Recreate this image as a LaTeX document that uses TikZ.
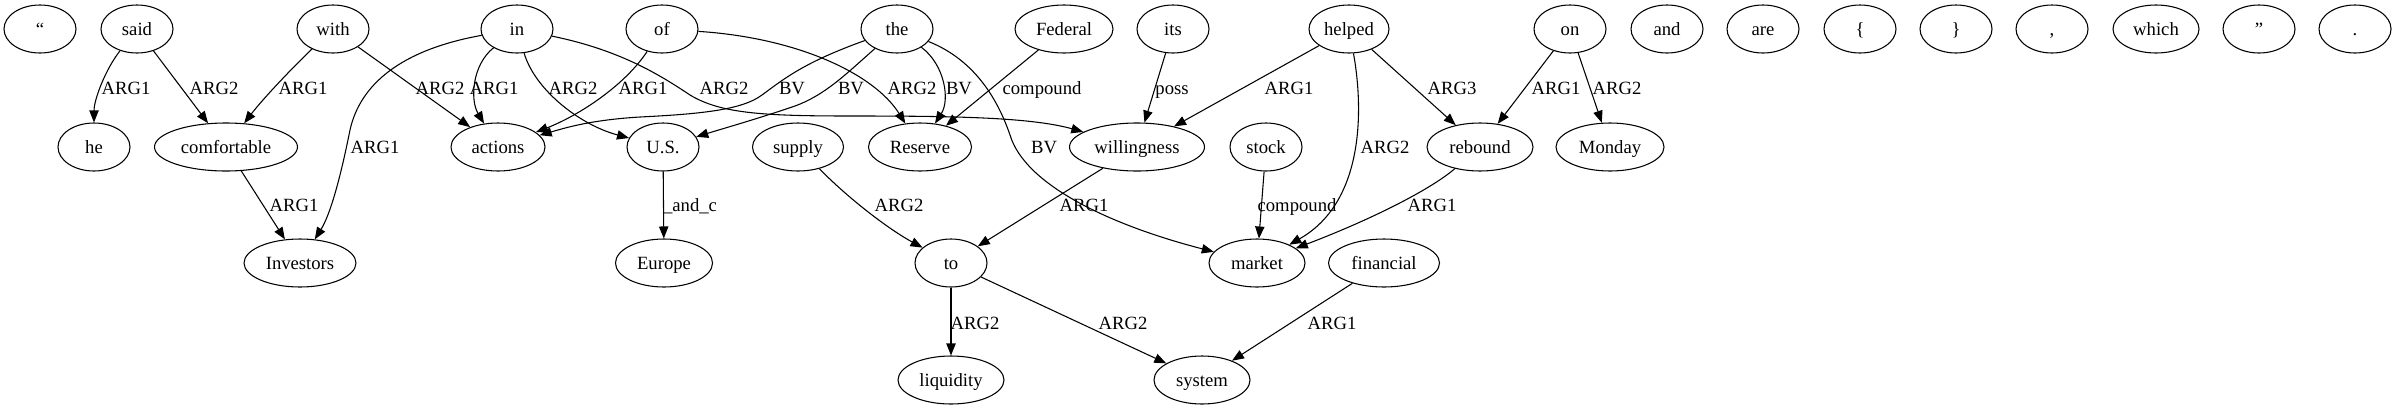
\documentclass[tikz,border=0pt]{standalone}
\usepackage{fontspec}
\setmainfont{Liberation Serif}
\usetikzlibrary{shapes.geometric,arrows.meta}
\tikzset{
  wn/.style={draw, ellipse, line width=0.8pt, inner sep=0pt, minimum height=36pt, minimum width=54pt,
    font=\fontsize{14}{16}\selectfont, text height=9.5pt, text depth=0pt},
  w/.style={minimum width=#1*0.75pt},
  ed/.style={draw, line width=0.8pt, -{Triangle[length=9pt,width=7pt]}},
  lbl/.style={font=\fontsize{14}{16}\selectfont, inner sep=0pt, text height=9.5pt, text depth=0pt}
}
\begin{document}
\begin{tikzpicture}[x=0.75pt,y=-0.75pt]
\useasboundingbox (0,0) rectangle (2393,411);
% row 1
\node[wn] (q1) at (40,29) {“};
\node[wn] (said) at (137,29) {said};
\node[wn] (with) at (333,29) {with};
\node[wn] (in) at (517,29) {in};
\node[wn] (of) at (662,29) {of};
\node[wn] (the) at (897,29) {the};
\node[wn,w=98] (federal) at (1064,29) {Federal};
\node[wn] (its) at (1173,29) {its};
\node[wn,w=80] (helped) at (1349,29) {helped};
\node[wn] (on) at (1570,29) {on};
\node[wn] (and) at (1667,29) {and};
\node[wn] (are) at (1763,29) {are};
\node[wn] (lb) at (1860,29) {\{};
\node[wn] (rb) at (1956,29) {\}};
\node[wn] (comma) at (2052,29) {,};
\node[wn,w=86] (which) at (2156,29) {which};
\node[wn] (q2) at (2259,29) {”};
\node[wn] (dot) at (2355,29) {.};
% row 2
\node[wn] (he) at (94,147) {he};
\node[wn,w=143] (comfortable) at (226,147) {comfortable};
\node[wn,w=94] (actions) at (498,147) {actions};
\node[wn] (us) at (663,147) {U.S.};
\node[wn,w=91] (supply) at (798,147) {supply};
\node[wn,w=103] (reserve) at (920,147) {Reserve};
\node[wn,w=135] (willingness) at (1137,147) {willingness};
\node[wn] (stock) at (1266,147) {stock};
\node[wn,w=106] (rebound) at (1480,147) {rebound};
\node[wn,w=108] (monday) at (1610,147) {Monday};
% row 3
\node[wn,w=112] (investors) at (300,263) {Investors};
\node[wn,w=97] (europe) at (664,263) {Europe};
\node[wn] (to) at (951,263) {to};
\node[wn,w=96] (market) at (1257,263) {market};
\node[wn,w=111] (financial) at (1384,263) {financial};
% row 4
\node[wn,w=106] (liquidity) at (951,380) {liquidity};
\node[wn,w=96] (system) at (1202,380) {system};
% edges
\draw[ed] (said) .. controls (105,70) and (94,100) .. (he) node[lbl,at={(126,88)}] (l1) {ARG1};
\draw[ed] (said) -- (comfortable) node[lbl,at={(214,88)}] (l2) {ARG2};
\draw[ed] (with) .. controls (290,70) and (262,100) .. (comfortable) node[lbl,at={(303,88)}] (l3) {ARG1};
\draw[ed] (with) -- (actions) node[lbl,at={(440,88)}] (l4) {ARG2};
\draw[ed] (in) .. controls (472,65) and (470,100) .. (actions) node[lbl,at={(494,88)}] (l5) {ARG1};
\draw[ed] (in) .. controls (400,50) and (360,85) .. (350,130) .. controls (340,180) and (330,215) .. (investors) node[lbl,at={(375,147)}] (l6) {ARG1};
\draw[ed] (in) .. controls (535,90) and (580,125) .. (us) node[lbl,at={(573,88)}] (l7) {ARG2};
\draw[ed] (in) .. controls (620,50) and (660,75) .. (690,95) .. controls (720,113) and (760,116) .. (850,116) .. controls (950,116) and (1030,117) .. (willingness) node[lbl,at={(724,88)}] (l8) {ARG2};
\draw[ed] (of) .. controls (625,85) and (580,115) .. (actions) node[lbl,at={(643,88)}] (l9) {ARG1};
\draw[ed] (of) .. controls (800,38) and (875,75) .. (reserve) node[lbl,at={(912,88)}] (l10) {ARG2};
\draw[ed] (the) .. controls (805,62) and (785,78) .. (762,95) .. controls (742,110) and (700,114) .. (640,117) .. controls (590,120) and (565,128) .. (actions) node[lbl,at={(792,88)}] (l11) {BV};
\draw[ed] (the) .. controls (845,75) and (825,95) .. (795,106) .. controls (760,118) and (725,128) .. (us) node[lbl,at={(851,88)}] (l12) {BV};
\draw[ed] (the) .. controls (945,65) and (950,100) .. (reserve) node[lbl,at={(959,88)}] (l13) {BV};
\draw[ed] (the) .. controls (975,60) and (998,100) .. (1010,135) .. controls (1025,185) and (1110,225) .. (market) node[lbl,at={(1044,147)}] (l14) {BV};
\draw[ed] (federal) -- (reserve) node[lbl,at={(1042,88)}] (l15) {compound};
\draw[ed] (its) -- (willingness) node[lbl,at={(1172,88)}] (l16) {poss};
\draw[ed] (helped) -- (willingness) node[lbl,at={(1289,88)}] (l17) {ARG1};
\draw[ed] (helped) .. controls (1362,100) and (1368,200) .. (market) node[lbl,at={(1385,147)}] (l18) {ARG2};
\draw[ed] (helped) -- (rebound) node[lbl,at={(1452,88)}] (l19) {ARG3};
\draw[ed] (on) -- (rebound) node[lbl,at={(1556,88)}] (l20) {ARG1};
\draw[ed] (on) -- (monday) node[lbl,at={(1617,88)}] (l21) {ARG2};
\draw[ed] (us) -- (europe) node[lbl,at={(690,205)}] (l22) {\_and\_c};
\draw[ed] (comfortable) -- (investors) node[lbl,at={(294,205)}] (l23) {ARG1};
\draw[ed] (stock) -- (market) node[lbl,at={(1297,205)}] (l24) {compound};
\draw[ed] (rebound) .. controls (1430,190) and (1370,220) .. (market) node[lbl,at={(1432,205)}] (l25) {ARG1};
\draw[ed] (supply) .. controls (850,200) and (890,230) .. (to) node[lbl,at={(899,205)}] (l26) {ARG2};
\draw[ed] (willingness) -- (to) node[lbl,at={(1084,205)}] (l27) {ARG1};
\draw[ed] (to) -- (liquidity) node[lbl,at={(975,323)}] (l28) {ARG2};
\draw[ed] (to) -- (system) node[lbl,at={(1123,323)}] (l29) {ARG2};
\draw[ed] (financial) -- (system) node[lbl,at={(1332,323)}] (l30) {ARG1};
\end{tikzpicture}
\end{document}
